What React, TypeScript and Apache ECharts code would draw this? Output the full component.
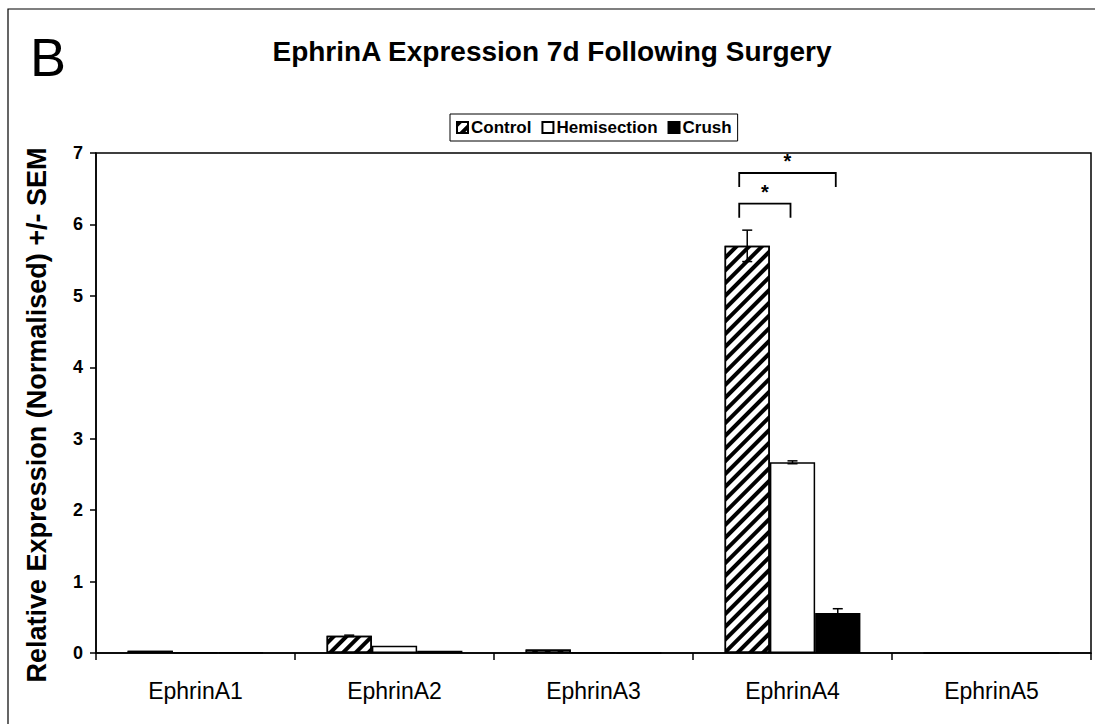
import React, { useEffect, useRef } from "react";
import * as echarts from "echarts";

const categories = ["EphrinA1", "EphrinA2", "EphrinA3", "EphrinA4", "EphrinA5"];
const seriesNames = ["Control", "Hemisection", "Crush"];
const controlValues = [0.03, 0.24, 0.05, 5.7, 0.0];
const hemisectionValues = [0.01, 0.1, 0.01, 2.67, 0.0];
const crushValues = [0.01, 0.03, 0.0, 0.56, 0.0];
const controlSem = [0, 0.01, 0, 0.22, 0];
const hemisectionSem = [0, 0, 0, 0.02, 0];
const crushSem = [0, 0, 0, 0.06, 0];
const yTicks = [0, 1, 2, 3, 4, 5, 6, 7];

// significance brackets: category index, from series, to series, level (value)
const bracketCategory = [3, 3];
const bracketFrom = [0, 0];
const bracketTo = [1, 2];
const bracketLevel = [6.29, 6.72];
const bracketLabel = ["*", "*"];

const BAR_FRAC = 0.2275;
const NARROW = "'Liberation Sans Narrow', 'Liberation Sans', Arial, sans-serif";
const SANS = "'Liberation Sans', Arial, Helvetica, sans-serif";

export default function App() {
  const ref = useRef<HTMLDivElement>(null);
  useEffect(() => {
    document.body.style.margin = "0";
    if (!ref.current) return;
    const chart = echarts.init(ref.current, undefined, { renderer: "svg" });
    const values = [controlValues, hemisectionValues, crushValues];
    const sems = [controlSem, hemisectionSem, crushSem];
    const errData: number[][] = [];
    values.forEach((arr, k) =>
      arr.forEach((v, i) => {
        if (sems[k][i] > 0) errData.push([i, v, sems[k][i], k]);
      })
    );
    const bracketData = bracketCategory.map((c, i) => [c, bracketLevel[i], bracketFrom[i], bracketTo[i], i]);

    const barStyles = [
      {
        color: "#fff",
        borderColor: "#000",
        borderWidth: 1.5,
        decal: {
          symbol: "rect",
          symbolSize: 1,
          color: "#000",
          dashArrayX: [1, 0],
          dashArrayY: [4, 5],
          rotation: -Math.PI / 4,
        },
      },
      { color: "#fff", borderColor: "#000", borderWidth: 1.5 },
      { color: "#000", borderColor: "#000", borderWidth: 1.5 },
    ];

    chart.setOption({
      animation: false,
      backgroundColor: "#fff",
      title: {
        text: "EphrinA Expression 7d Following Surgery",
        left: 547,
        top: 32,
        textAlign: "center",
        textStyle: { fontFamily: NARROW, fontWeight: "bold", fontSize: 28, color: "#000" },
      },
      legend: {
        data: seriesNames,
        left: 450,
        top: 114,
        width: 300,
        padding: [5, 6, 5, 6],
        itemGap: 10,
        itemWidth: 11,
        itemHeight: 11,
        icon: "rect",
        borderColor: "#000",
        borderWidth: 1,
        textStyle: { fontFamily: NARROW, fontWeight: "bold", fontSize: 17, color: "#000", padding: [0, 0, 0, -2] },
      },
      grid: {
        left: 96,
        right: 4,
        top: 153,
        bottom: 71,
        show: true,
        borderColor: "#000",
        borderWidth: 1.5,
      },
      xAxis: {
        type: "category",
        data: categories,
        axisLine: { lineStyle: { color: "#000", width: 1.5 } },
        axisTick: { show: true, length: 7, lineStyle: { color: "#000", width: 1.5 } },
        axisLabel: { fontFamily: SANS, fontSize: 23, color: "#000", margin: 26 },
      },
      yAxis: {
        type: "value",
        min: 0,
        max: 7,
        interval: 1,
        splitLine: { show: false },
        axisLine: { show: true, lineStyle: { color: "#000", width: 1.5 } },
        axisTick: { show: true, length: 6, lineStyle: { color: "#000", width: 1.5 } },
        axisLabel: {
          fontFamily: SANS,
          fontWeight: "bold",
          fontSize: 18,
          color: "#000",
          margin: 13,
          formatter: (v: number) => (yTicks.includes(v) ? String(v) : ""),
        },
        name: "Relative Expression (Normalised) +/- SEM",
        nameLocation: "middle",
        nameGap: 46,
        nameTextStyle: {
          fontFamily: SANS,
          fontWeight: "bold",
          fontSize: 27,
          color: "#000",
          padding: [0, 24, 0, 0],
        },
      },
      series: [
        ...seriesNames.map((name, k) => ({
          name,
          type: "bar",
          data: values[k],
          barWidth: BAR_FRAC * 100 + "%",
          barGap: "0%",
          itemStyle: barStyles[k],
          emphasis: { disabled: true },
        })),
        {
          type: "custom",
          name: "errors",
          data: errData,
          encode: { x: 0, y: 1 },
          z: 10,
          clip: false,
          renderItem: (params: any, api: any) => {
            const ci = api.value(0);
            const v = api.value(1);
            const s = api.value(2);
            const k = api.value(3);
            const band = api.size([1, 0])[0];
            const bw = band * BAR_FRAC;
            const cx = api.coord([ci, 0])[0] + (k - 1) * bw;
            const top = api.coord([ci, v + s])[1];
            const bot = api.coord([ci, v - s])[1];
            const cap = 5;
            const st = { stroke: "#000", lineWidth: 1.5 };
            return {
              type: "group",
              children: [
                { type: "line", shape: { x1: cx, y1: top, x2: cx, y2: bot }, style: st },
                { type: "line", shape: { x1: cx - cap, y1: top, x2: cx + cap, y2: top }, style: st },
                { type: "line", shape: { x1: cx - cap, y1: bot, x2: cx + cap, y2: bot }, style: st },
              ],
            };
          },
        },
        {
          type: "custom",
          name: "brackets",
          data: bracketData,
          encode: { x: 0, y: 1 },
          z: 10,
          clip: false,
          renderItem: (params: any, api: any) => {
            const ci = api.value(0);
            const lvl = api.value(1);
            const f = api.value(2);
            const t = api.value(3);
            const idx = api.value(4);
            const band = api.size([1, 0])[0];
            const bw = band * BAR_FRAC;
            const c0 = api.coord([ci, lvl]);
            const x1 = c0[0] + (f - 1) * bw - 8;
            const x2 = c0[0] + (t - 1) * bw - 2;
            const y = c0[1];
            const leg = 14;
            return {
              type: "group",
              children: [
                {
                  type: "polyline",
                  shape: { points: [[x1, y + leg], [x1, y], [x2, y], [x2, y + leg]] },
                  style: { stroke: "#000", lineWidth: 1.8, fill: null },
                },
                {
                  type: "text",
                  x: (x1 + x2) / 2,
                  y: y - 2,
                  style: {
                    text: bracketLabel[idx],
                    fill: "#000",
                    font: "bold 20px " + SANS,
                    align: "center",
                    verticalAlign: "bottom",
                  },
                },
              ],
            };
          },
        },
      ],
      graphic: [
        {
          type: "rect",
          shape: { x: 8, y: 9, width: 1200, height: 800 },
          style: { fill: null, stroke: "#000", lineWidth: 1.2 },
          silent: true,
        },
        {
          type: "text",
          x: 30,
          y: 30,
          style: { text: "B", fill: "#000", font: "54px " + SANS },
        },
      ],
    });
    return () => chart.dispose();
  }, []);
  return <div ref={ref} style={{ width: 1095, height: 724 }} />;
}
